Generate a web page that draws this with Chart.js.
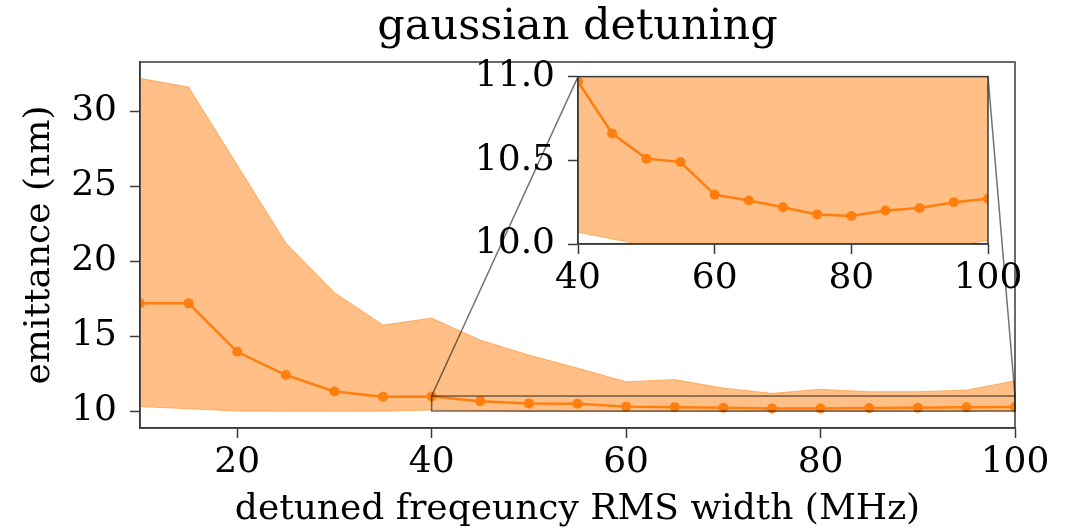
<!DOCTYPE html>
<html>
<head>
<meta charset="utf-8">
<script src="https://cdn.jsdelivr.net/npm/chart.js@4.4.1/dist/chart.umd.min.js"></script>
<style>
  body { margin: 0; background: #fff; }
  #wrap { position: relative; width: 1071px; height: 530px; }
  #wrap canvas { position: absolute; }
</style>
</head>
<body>
<div id="wrap">
  <canvas id="main" width="1071" height="530"></canvas>
  <canvas id="inset" width="560" height="258"></canvas>
</div>
<script>
// detuned frequency RMS width (MHz)
const widths    = [10, 15, 20, 25, 30, 35, 40, 45, 50, 55, 60, 65, 70, 75, 80, 85, 90, 95, 100];
// emittance (nm): mean and the shaded band around it
const meanEmit  = [17.18, 17.18, 13.95, 12.4, 11.3, 10.95, 10.97, 10.66, 10.51, 10.49, 10.295, 10.26, 10.22, 10.176, 10.167, 10.2, 10.215, 10.25, 10.27];
const upperEmit = [32.18, 31.6, 26.4, 21.2, 17.9, 15.73, 16.2, 14.73, 13.73, 12.87, 11.95, 12.1, 11.53, 11.18, 11.45, 11.29, 11.29, 11.4, 12.02];
const lowerEmit = [10.3, 10.15, 10.0, 9.98, 9.98, 9.99, 10.07, 10.03, 9.99, 9.98, 9.98, 9.98, 9.98, 9.98, 9.98, 9.98, 9.98, 9.99, 10.02];

const mainXTicks  = [20, 40, 60, 80, 100];
const mainYTicks  = [10, 15, 20, 25, 30];
const insetXTicks = [40, 60, 80, 100];
const insetYTicks = [10.0, 10.5, 11.0];
const insetXRange = [40, 100];
const insetYRange = [10, 11];

const ORANGE = '#ff7f0e';
const BAND = 'rgba(255,127,14,0.5)';
const AXIS = '#3a3a3a';
const INSET_LEFT = 468, INSET_TOP = 42;

Chart.defaults.font.family = "'DejaVu Serif', serif";
Chart.defaults.color = '#000';

const pts = arr => arr.map((v, i) => ({x: widths[i], y: v}));

function makeDatasets() {
  return [
    {data: pts(meanEmit), borderColor: ORANGE, backgroundColor: ORANGE, borderWidth: 2.5,
     pointRadius: 5, pointBorderWidth: 0, pointBackgroundColor: ORANGE, fill: false},
    {data: pts(upperEmit), borderColor: BAND, backgroundColor: BAND, borderWidth: 1,
     pointRadius: 0, fill: '+1'},
    {data: pts(lowerEmit), borderColor: BAND, borderWidth: 1, pointRadius: 0, fill: false}
  ];
}

function linearAxis(min, max, tickVals, fmt, padding, fixSize, title) {
  return {
    type: 'linear', min: min, max: max,
    afterBuildTicks: s => { s.ticks = tickVals.map(v => ({value: v})); },
    afterFit: fixSize,
    grid: {drawOnChartArea: false, tickLength: 10, tickColor: AXIS, tickWidth: 1.5},
    border: {color: AXIS, width: 1.5},
    ticks: {font: {size: 36}, padding: padding, color: '#000', maxRotation: 0, autoSkip: false,
            callback: v => fmt(v)},
    title: title || {display: false}
  };
}

// full box round the plot area (matplotlib spines)
const frame = {
  id: 'frame',
  afterDatasetsDraw(chart) {
    const {ctx, chartArea: a} = chart;
    ctx.save();
    ctx.strokeStyle = AXIS;
    ctx.lineWidth = 1.5;
    ctx.strokeRect(a.left, a.top, a.right - a.left, a.bottom - a.top);
    ctx.restore();
  }
};

const whiteArea = {
  id: 'whiteArea',
  beforeDraw(chart) {
    const {ctx, chartArea: a} = chart;
    ctx.save();
    ctx.fillStyle = '#fff';
    ctx.fillRect(a.left, a.top, a.right - a.left, a.bottom - a.top);
    ctx.restore();
  }
};

// centre the title over the plot area, like matplotlib does
const titleOverArea = {
  id: 'titleOverArea',
  afterLayout(chart) {
    if (chart.titleBlock) {
      chart.titleBlock.left = chart.chartArea.left;
      chart.titleBlock.right = chart.chartArea.right;
    }
  }
};

const insetCanvas = document.getElementById('inset');
insetCanvas.style.left = INSET_LEFT + 'px';
insetCanvas.style.top = INSET_TOP + 'px';

const insetChart = new Chart(insetCanvas, {
  type: 'line',
  data: {datasets: makeDatasets()},
  options: {
    responsive: false, animation: false,
    layout: {padding: {top: 30, right: 40, left: 0, bottom: 0}},
    plugins: {legend: {display: false}, tooltip: {enabled: false}},
    scales: {
      x: linearAxis(insetXRange[0], insetXRange[1], insetXTicks, v => String(v), 3, s => { s.height = 56; }),
      y: linearAxis(insetYRange[0], insetYRange[1], insetYTicks, v => v.toFixed(1), 13, s => { s.width = 110; })
    }
  },
  plugins: [whiteArea, frame]
});

// zoom rectangle and the two connector lines
const insetLinks = {
  id: 'insetLinks',
  afterDatasetsDraw(chart) {
    const {ctx, scales: {x, y}} = chart;
    const ia = insetChart.chartArea;
    const x0 = x.getPixelForValue(insetXRange[0]), x1 = x.getPixelForValue(insetXRange[1]);
    const y0 = y.getPixelForValue(insetYRange[0]), y1 = y.getPixelForValue(insetYRange[1]);
    ctx.save();
    ctx.strokeStyle = 'rgba(0,0,0,0.55)';
    ctx.lineWidth = 1.5;
    ctx.strokeRect(x0, y1, x1 - x0, y0 - y1);
    ctx.beginPath();
    ctx.moveTo(INSET_LEFT + ia.left, INSET_TOP + ia.top);
    ctx.lineTo(x0, y1);
    ctx.moveTo(INSET_LEFT + ia.right, INSET_TOP + ia.top);
    ctx.lineTo(x1, y1);
    ctx.stroke();
    ctx.restore();
  }
};

new Chart(document.getElementById('main'), {
  type: 'line',
  data: {datasets: makeDatasets()},
  options: {
    responsive: false, animation: false,
    layout: {padding: {top: 0, right: 56, left: 0, bottom: 0}},
    plugins: {
      legend: {display: false}, tooltip: {enabled: false},
      title: {display: true, text: 'gaussian detuning', color: '#000',
              font: {size: 43, weight: 'normal'}, padding: {top: 2.2, bottom: 8.2}}
    },
    scales: {
      x: linearAxis(10, 100, mainXTicks, v => String(v), 3, s => { s.height = 102; },
           {display: true, text: 'detuned freqeuncy RMS width (MHz)', color: '#000',
            font: {size: 36, lineHeight: 1.15}, padding: {top: 0, bottom: 0}}),
      y: linearAxis(8.87, 33.27, mainYTicks, v => String(v), 13, s => { s.width = 140; },
           {display: true, text: 'emittance (nm)', color: '#000',
            font: {size: 36}, padding: {top: 18, bottom: 0}})
    }
  },
  plugins: [titleOverArea, frame, insetLinks]
});
</script>
</body>
</html>
